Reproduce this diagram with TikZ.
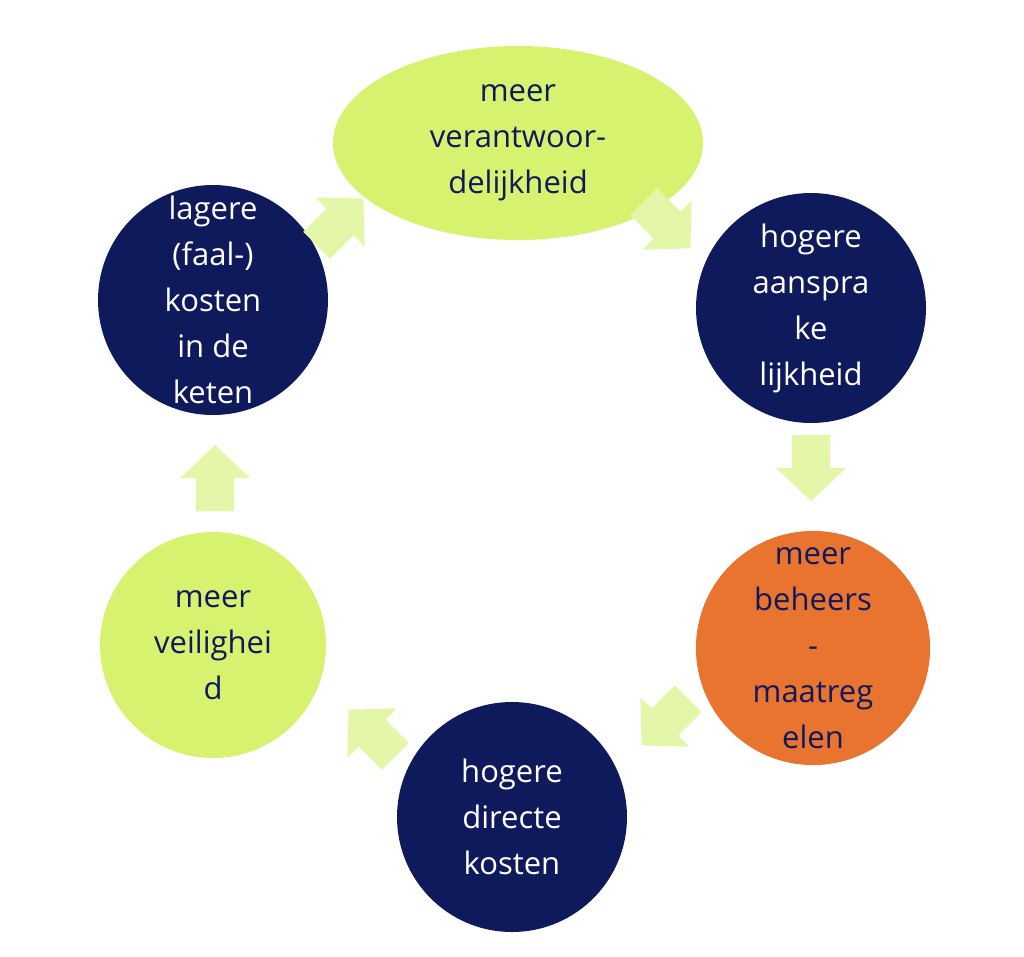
\documentclass[tikz,border=0pt]{standalone}
\usepackage{fontspec}
\setmainfont{Open Sans}
\usetikzlibrary{shapes.geometric}
\definecolor{lgreen}{HTML}{D7F26E}
\definecolor{navy}{HTML}{0E1A5C}
\definecolor{orng}{HTML}{E8742F}
\definecolor{parrow}{HTML}{E4F7A8}
\begin{document}
\begin{tikzpicture}[x=1pt,y=-1pt,
  txt/.style={align=center,font=\fontsize{31}{46}\selectfont},
  circ/.style={circle,minimum size=230pt,inner sep=0pt,txt},
  blk/.pic={\fill[parrow] (-33,-19) -- (0,-19) -- (0,-35) -- (33,0) -- (0,35) -- (0,19) -- (-33,19) -- cycle;}]
\useasboundingbox[fill=white] (0,0) rectangle (1024,956);
\node[ellipse,fill=lgreen,text=navy,minimum width=370pt,minimum height=194pt,txt] (e) at (518,143) {meer\\verantwoor-\\delijkheid};
\node[circ,fill=navy,text=white] (r) at (811,308) {hogere\\aanspra\\ke\\lijkheid};
\node[circ,fill=orng,text=navy,minimum size=226pt] (o) at (813,648) {meer\\beheers\\-\\maatreg\\elen};
\node[circ,fill=navy,text=white] (b) at (512,817) {hogere\\directe\\kosten};
\node[circ,fill=lgreen,text=navy,minimum size=226pt] (g) at (213,645) {meer\\veilighei\\d};
\node[circ,fill=navy,text=white] (l) at (213,300) {lagere\\(faal-)\\kosten\\in de\\keten};
\pic[rotate=-45] at (667,225) {blk};
\pic[rotate=-90] at (811,468) {blk};
\pic[rotate=-135] at (665,722) {blk};
\pic[rotate=135] at (372,733) {blk};
\pic[rotate=90] at (215,478) {blk};
\pic[rotate=45] at (340,222) {blk};
\end{tikzpicture}
\end{document}
